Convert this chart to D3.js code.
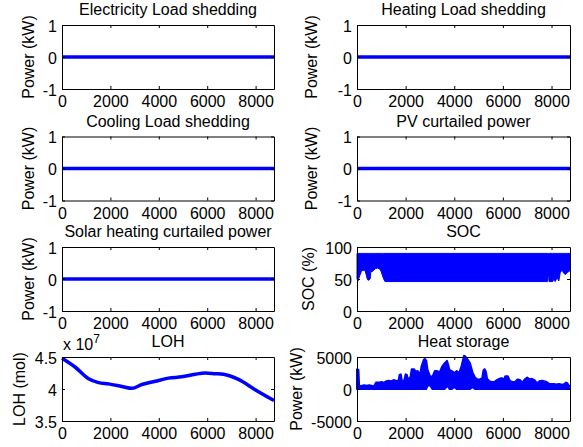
<!DOCTYPE html>
<html><head><meta charset="utf-8">
<script src="https://cdn.jsdelivr.net/npm/d3@7"></script>
<style>
body{margin:0;background:#fff;}
svg text{font-family:"Liberation Sans",Arial,Helvetica,sans-serif;fill:#000;}
</style></head><body>
<svg id="c" width="583" height="447"></svg>
<script>
// ---------- data ----------
const flatHours = [0, 8760];
const elecShed = [0, 0];
const heatShed = [0, 0];
const coolShed = [0, 0];
const pvCurt = [0, 0];
const solarCurt = [0, 0];
const xTicks = [0, 2000, 4000, 6000, 8000];
const powerTicks = [-1, 0, 1];

const socHours = [0, 40, 120, 190, 320, 370, 430, 480, 540, 580, 600, 670, 750, 850, 950, 1000, 1050, 1100, 1150,
                  7840, 7870, 7900, 8050, 8100, 8150, 8230, 8300, 8360, 8440, 8500, 8580, 8650, 8760];
const socMin = [50, 47, 56, 63, 64, 58, 49, 48, 50, 66, 61, 63, 66, 67, 65, 61, 55, 50, 46,
                46, 61, 46, 46, 50, 46, 52, 47, 60, 64, 59, 57, 60, 63];
const socMax = [90, 90, 90, 90, 90, 90, 90, 90, 90, 90, 90, 90, 90, 90, 90, 90, 90, 90, 90,
                90, 90, 90, 90, 90, 90, 90, 90, 90, 90, 90, 90, 90, 90];
const socTicks = [0, 50, 100];

const lohHours = [0, 550, 1100, 1510, 1920, 2470, 2890, 3300, 3850, 4400, 4950, 5500, 5910, 6320, 6670, 7290, 7980, 8760];
const lohValues = [4.48e7, 4.34e7, 4.16e7, 4.10e7, 4.08e7, 4.04e7, 4.01e7, 4.07e7, 4.12e7, 4.17e7, 4.19e7, 4.23e7,
                   4.25e7, 4.24e7, 4.23e7, 4.15e7, 3.99e7, 3.82e7];
const lohTicks = [3.5e7, 4e7, 4.5e7];

const hsHours = [0, 60, 90, 200, 300, 400, 500, 600, 700, 780,
  900, 1000, 1100, 1200, 1300, 1400, 1500, 1600, 1700, 1750,
  1800, 1850, 1950, 2000, 2050, 2100, 2200, 2250, 2350, 2400,
  2500, 2600, 2650, 2750, 2800, 2850, 2900, 3000, 3100, 3200,
  3300, 3400, 3500, 3600, 3700, 3750, 3800, 3900, 4000, 4100,
  4200, 4300, 4400, 4450, 4550, 4650, 4750, 4850, 4950, 5050,
  5150, 5200, 5250, 5300, 5350, 5450, 5550, 5650, 5750, 5850,
  5950, 6050, 6100, 6200, 6300, 6400, 6500, 6600, 6700, 6800,
  6900, 7000, 7100, 7200, 7300, 7400, 7500, 7600, 7700, 7800,
  7900, 8000, 8100, 8200, 8300, 8400, 8500, 8600, 8650, 8700,
  8760];
const hsMax = [3100, 3000, 400, 500, 600, 500, 600, 500, 400, 1000,
  1000, 1100, 1000, 1200, 1300, 1200, 1400, 1300, 1200, 2200,
  2300, 1200, 1400, 2300, 2200, 1400, 1900, 3100, 3100, 2700,
  2800, 2200, 3500, 4600, 4700, 4400, 3000, 2000, 1900, 2800,
  2800, 2600, 3500, 4000, 4400, 3800, 3000, 2800, 2500, 2800,
  2500, 3600, 5200, 5100, 4600, 4000, 2600, 1800, 1500, 1500,
  1700, 2900, 3100, 2700, 1600, 1200, 1100, 1100, 1400, 1600,
  1700, 1500, 2000, 2000, 1200, 1100, 1100, 1500, 1400, 1000,
  1500, 1800, 1500, 1600, 1400, 900, 1200, 1300, 1200, 1100,
  800, 800, 800, 700, 800, 700, 700, 1000, 900, 600,
  400];
const hsMin = [0, 0, 0, 0, 0, 0, 0, 0, 0, 0,
  0, 0, 0, 0, 0, 0, 0, 0, 0, 0,
  0, 0, 0, 0, 0, 0, 0, 0, 0, 0,
  0, 0, 0, 0, 0, 0, 500, 600, 0, 0,
  0, 0, 0, 0, 400, 500, 0, 0, 300, 0,
  0, 0, 0, 0, 0, 0, 300, 0, 0, 0,
  0, 0, 0, 0, 0, 0, 0, 0, 0, 0,
  0, 0, 0, 0, 0, 0, 0, 0, 0, 0,
  0, 0, 0, 0, 0, 0, 0, 0, 0, 0,
  0, 0, 0, 0, 0, 0, 0, 0, 0, 0,
  0];
const hsTicks = [-5000, 0, 5000];

// ---------- layout ----------
const svg = d3.select("#c");
const cols = [{x0: 62, x1: 274}, {x0: 357, x1: 570}];
const rowTops = [25, 136.5, 247, 357];
const H = 64;
const BLUE = "#0000ff";
const FS = "16px";

function panel(opt) {
  const c = cols[opt.col], top = rowTops[opt.row];
  const w = c.x1 - c.x0;
  const g = svg.append("g").attr("transform", `translate(${c.x0},${top})`);
  const x = d3.scaleLinear().domain([0, 8760]).range([0, w]);
  const y = d3.scaleLinear().domain(opt.yDomain).range([H, 0]);

  opt.draw(g, x, y);

  const fmt = opt.fmt || (d => String(d));
  const styleAxis = a => {
    a.selectAll("path.domain").attr("stroke", "#000").attr("stroke-width", 1);
    a.selectAll(".tick line").attr("stroke", "#000").attr("stroke-width", 1);
    a.selectAll("text").attr("font-size", FS).attr("fill", "#000")
      .style("font-family", '"Liberation Sans",Arial,sans-serif');
  };
  g.append("g").attr("transform", `translate(0,${H})`)
    .call(d3.axisBottom(x).tickValues(xTicks).tickSize(-3).tickSizeOuter(0).tickPadding(7).tickFormat(d => String(d)))
    .call(styleAxis);
  g.append("g")
    .call(d3.axisTop(x).tickValues(xTicks).tickSize(-3).tickSizeOuter(0).tickFormat(""))
    .call(styleAxis);
  g.append("g")
    .call(d3.axisLeft(y).tickValues(opt.yTicks).tickSize(-3).tickSizeOuter(0).tickPadding(5).tickFormat(fmt))
    .call(styleAxis)
    .selectAll("text").attr("dy", "0.38em");
  g.append("g").attr("transform", `translate(${w},0)`)
    .call(d3.axisRight(y).tickValues(opt.yTicks).tickSize(-3).tickSizeOuter(0).tickFormat(""))
    .call(styleAxis);

  g.append("text").attr("x", w / 2).attr("y", -10).attr("text-anchor", "middle")
    .attr("font-size", FS).text(opt.title);
  svg.append("text")
    .attr("transform", `translate(${opt.ylx},${top + H / 2}) rotate(-90)`)
    .attr("text-anchor", "middle").attr("font-size", FS).text(opt.ylabel);
  if (opt.exp) {
    const t = g.append("text").attr("x", 1).attr("y", -7).attr("font-size", FS);
    t.append("tspan").text("x 10");
    t.append("tspan").attr("dy", -7).attr("font-size", "12px").text(opt.exp);
  }
}

function flatLine(vals) {
  return (g, x, y) => {
    const pts = flatHours.map((h, i) => [h, vals[i]]);
    g.append("path").datum(pts).attr("fill", "none").attr("stroke", BLUE).attr("stroke-width", 3.5)
      .attr("d", d3.line().x(d => x(d[0])).y(d => y(d[1])));
  };
}

panel({col: 0, row: 0, title: "Electricity Load shedding", ylabel: "Power (kW)", ylx: 33.5,
  yDomain: [-1, 1], yTicks: powerTicks, draw: flatLine(elecShed)});
panel({col: 1, row: 0, title: "Heating Load shedding", ylabel: "Power (kW)", ylx: 316.5,
  yDomain: [-1, 1], yTicks: powerTicks, draw: flatLine(heatShed)});
panel({col: 0, row: 1, title: "Cooling Load shedding", ylabel: "Power (kW)", ylx: 33.5,
  yDomain: [-1, 1], yTicks: powerTicks, draw: flatLine(coolShed)});
panel({col: 1, row: 1, title: "PV curtailed power", ylabel: "Power (kW)", ylx: 316.5,
  yDomain: [-1, 1], yTicks: powerTicks, draw: flatLine(pvCurt)});
panel({col: 0, row: 2, title: "Solar heating curtailed power", ylabel: "Power (kW)", ylx: 33.5,
  yDomain: [-1, 1], yTicks: powerTicks, draw: flatLine(solarCurt)});

panel({col: 1, row: 2, title: "SOC", ylabel: "SOC (%)", ylx: 314,
  yDomain: [0, 100], yTicks: socTicks,
  draw: (g, x, y) => {
    const pts = socHours.map((h, i) => ({h, lo: socMin[i], hi: socMax[i]}));
    g.append("path").datum(pts).attr("fill", BLUE).attr("stroke", BLUE).attr("stroke-width", 1)
      .attr("d", d3.area().x(d => x(d.h)).y0(d => y(d.lo)).y1(d => y(d.hi)));
  }});

panel({col: 0, row: 3, title: "LOH", ylabel: "LOH (mol)", ylx: 25,
  yDomain: [3.5e7, 4.5e7], yTicks: lohTicks, exp: "7",
  fmt: d => String(+(d / 1e7).toFixed(1)),
  draw: (g, x, y) => {
    const pts = lohHours.map((h, i) => [h, lohValues[i]]);
    g.append("path").datum(pts).attr("fill", "none").attr("stroke", BLUE).attr("stroke-width", 3.5)
      .attr("stroke-linejoin", "round")
      .attr("d", d3.line().curve(d3.curveMonotoneX).x(d => x(d[0])).y(d => y(d[1])));
  }});

panel({col: 1, row: 3, title: "Heat storage", ylabel: "Power (kW)", ylx: 302,
  yDomain: [-5000, 5000], yTicks: hsTicks,
  draw: (g, x, y) => {
    const pts = hsHours.map((h, i) => ({h, lo: hsMin[i], hi: hsMax[i]}));
    g.append("path").datum(pts).attr("fill", BLUE).attr("stroke", BLUE).attr("stroke-width", 2)
      .attr("stroke-linejoin", "round")
      .attr("d", d3.area().x(d => x(d.h)).y0(d => y(d.lo)).y1(d => y(d.hi)));
  }});
</script>
</body></html>
